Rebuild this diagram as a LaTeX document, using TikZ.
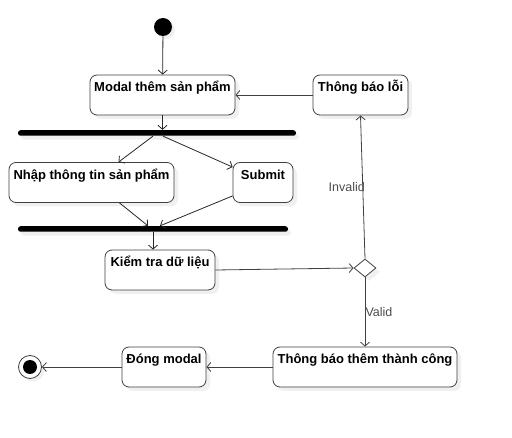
\documentclass[tikz,border=0pt]{standalone}
\usepackage{fontspec}
\setmainfont{Liberation Sans}
\usetikzlibrary{shapes.geometric,arrows.meta,positioning,calc,shadows}
\tikzset{
action/.style = {draw=black!75, fill=white, rectangle, rounded corners=7pt, line width=0.8pt,
  font=\bfseries\fontsize{13}{15}\selectfont, text height=17pt, text depth=23pt,
  inner xsep=0pt, inner ysep=0pt,
  drop shadow={shadow xshift=4pt, shadow yshift=-4pt, fill=black!6, opacity=1}},
syncbar/.style = {fill=black, rectangle, rounded corners=2.5pt, minimum height=5.5pt, inner sep=0pt,
  drop shadow={shadow xshift=3pt, shadow yshift=-4pt, fill=black!6, opacity=1}},
choice/.style = {draw=black!75, fill=white, diamond, line width=0.8pt, minimum width=22pt, minimum height=18pt, inner sep=0pt,
  drop shadow={shadow xshift=4pt, shadow yshift=-4pt, fill=black!6, opacity=1}},
startdot/.style = {circle, fill=black, minimum size=18pt, inner sep=0pt,
  drop shadow={shadow xshift=3pt, shadow yshift=-3pt, fill=black!6, opacity=1}},
enddot/.style = {circle, draw=black!75, fill=white, line width=0.8pt, minimum size=23pt, inner sep=0pt,
  path picture={\fill[black] (path picture bounding box.center) circle (7pt);},
  drop shadow={shadow xshift=3pt, shadow yshift=-3pt, fill=black!6, opacity=1}},
guard/.style = {font=\fontsize{12.5}{14}\selectfont, text=black!70}
}

\begin{document}
\begin{tikzpicture}[x=1pt, y=-1pt, >={Straight Barb[length=4pt,width=9pt]}, line width=0.8pt]
  \useasboundingbox (0,0) rectangle (512,438);

  \node [startdot]                                  (start)     at (163,27)    {};
  \node [action, minimum width=145pt]               (modal)     at (162.5,95)  {Modal thêm sản phẩm};
  \node [syncbar, minimum width=278pt]              (fork)      at (157,133)   {};
  \node [action, minimum width=165pt]               (nhap)      at (91.5,182.5) {Nhập thông tin sản phẩm};
  \node [action, minimum width=60pt]                (submit)    at (263,182.5) {Submit};
  \node [syncbar, minimum width=270pt]              (join)      at (153,229)   {};
  \node [action, minimum width=110pt]               (kiemtra)   at (160,270)   {Kiểm tra dữ liệu};
  \node [choice]                                    (check)     at (365,268)   {};
  \node [action, minimum width=95pt]                (loi)       at (360.5,95)  {Thông báo lỗi};
  \node [action, minimum width=184pt]               (thanhcong) at (365,367)   {Thông báo thêm thành công};
  \node [action, minimum width=84pt]                (dong)      at (164,367)   {Đóng modal};
  \node [enddot]                                    (stop)      at (30,367)    {};

  \draw [->, black!85] (start) -- (modal);
  \draw [->, black!85] (modal.south) -- (modal.south |- fork.north);
  \draw [->, black!85] ([xshift=-4pt]fork.south) -- ([xshift=27pt]nhap.north);
  \draw [->, black!85] ([xshift=6pt]fork.south) -- ([yshift=-5pt]submit.north west);
  \draw [->, black!85] ([xshift=28pt]nhap.south) -- ([xshift=-5pt]join.north);
  \draw [->, black!85] ([yshift=7pt]submit.south west) -- ([xshift=7pt]join.north);
  \draw [->, black!85] (join.south) -- (join.south |- kiemtra.north);
  \draw [->, black!75] (kiemtra.east) -- (check.west);
  \draw [->, black!75] (check.north) -- node[guard, xshift=-16pt] {Invalid} (loi.south);
  \draw [->, black!75] (check.south) -- node[guard, xshift=14pt] {Valid} (thanhcong.north);
  \draw [->, black!75] (loi.west) -- (modal.east);
  \draw [->, black!75] (thanhcong.west) -- (dong.east);
  \draw [->, black!75] (dong.west) -- (stop.east);
\end{tikzpicture}
\end{document}
